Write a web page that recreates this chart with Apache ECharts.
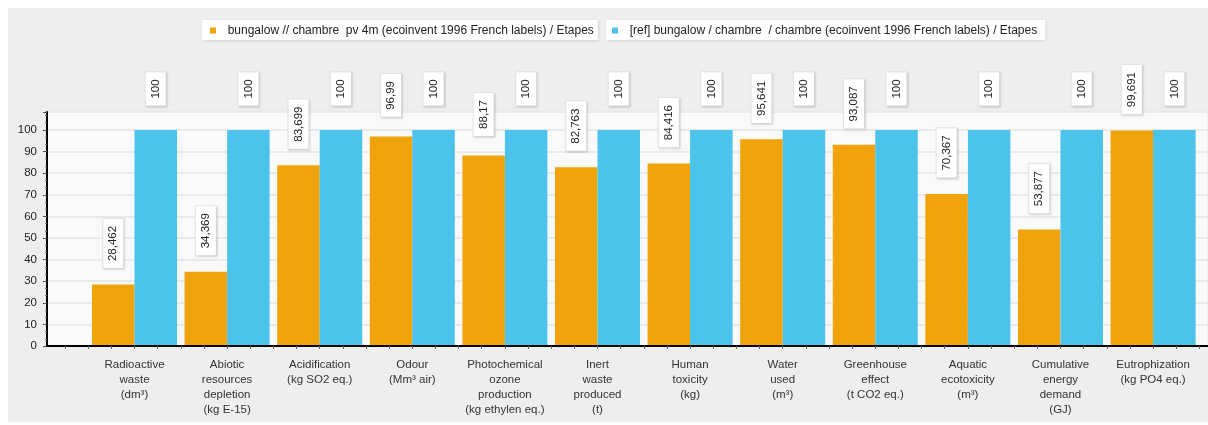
<!DOCTYPE html>
<html>
<head>
<meta charset="utf-8">
<script src="https://cdn.jsdelivr.net/npm/echarts@6/dist/echarts.min.js"></script>
<style>
  html, body { margin: 0; padding: 0; background: #ffffff; }
  #wrap { position: relative; width: 1208px; height: 425px; background: #ffffff; overflow: hidden; }
  #chart { position: absolute; left: 8px; top: 8px; width: 1200px; height: 414px; }
</style>
</head>
<body>
<div id="wrap"><div id="chart"></div></div>
<script>
// ---- data ----
const categories = [
  'Radioactive\nwaste\n(dm³)',
  'Abiotic\nresources\ndepletion\n(kg E-15)',
  'Acidification\n(kg SO2 eq.)',
  'Odour\n(Mm³ air)',
  'Photochemical\nozone\nproduction\n(kg ethylen eq.)',
  'Inert\nwaste\nproduced\n(t)',
  'Human\ntoxicity\n(kg)',
  'Water\nused\n(m³)',
  'Greenhouse\neffect\n(t CO2 eq.)',
  'Aquatic\necotoxicity\n(m³)',
  'Cumulative\nenergy\ndemand\n(GJ)',
  'Eutrophization\n(kg PO4 eq.)'
];
const seriesNames = [
  'bungalow // chambre  pv 4m (ecoinvent 1996 French labels) / Etapes',
  '[ref] bungalow / chambre  / chambre (ecoinvent 1996 French labels) / Etapes'
];
const valuesPv = [28.462, 34.369, 83.699, 96.99, 88.17, 82.763, 84.416, 95.641, 93.087, 70.367, 53.877, 99.691];
const valuesRef = [100, 100, 100, 100, 100, 100, 100, 100, 100, 100, 100, 100];
const yTickValues = [0, 10, 20, 30, 40, 50, 60, 70, 80, 90, 100];

// ---- chart ----
const FONT = '"Liberation Sans", Arial, sans-serif';
const catIndex = categories.map((c, i) => i);
const xTicks = [];
for (let k = -3; k <= 46; k++) xTicks.push(k / 4);

function fmt(v) { return String(v).replace('.', ','); }

const labelStyle = {
  show: true,
  position: 'top',
  distance: 41,
  rotate: 90,
  align: 'center',
  verticalAlign: 'middle',
  formatter: p => fmt(p.value[1]),
  fontFamily: FONT,
  fontSize: 11.5,
  color: '#222',
  lineHeight: 13,
  backgroundColor: '#ffffff',
  borderColor: '#e4e4e4',
  borderWidth: 1,
  padding: [4, 7, 3, 7],
  shadowColor: 'rgba(0,0,0,0.10)',
  shadowBlur: 2,
  shadowOffsetX: 1,
  shadowOffsetY: 1
};

const legendCommon = {
  top: 12,
  orient: 'horizontal',
  icon: 'rect',
  itemWidth: 6,
  itemHeight: 6,
  selectedMode: false,
  backgroundColor: '#ffffff',
  shadowColor: 'rgba(0,0,0,0.12)',
  shadowBlur: 3,
  shadowOffsetX: 1,
  shadowOffsetY: 1,
  formatter: n => '  ' + n,
  textStyle: { fontFamily: FONT, fontSize: 12, color: '#222', lineHeight: 13 }
};

const chart = echarts.init(document.getElementById('chart'), null, { renderer: 'canvas' });
chart.setOption({
  backgroundColor: '#eeeeee',
  animation: false,
  textStyle: { fontFamily: FONT },
  legend: [
    Object.assign({}, legendCommon, { left: 194, padding: [4, 4, 3, 8], data: [seriesNames[0]] }),
    Object.assign({}, legendCommon, { left: 598, padding: [4, 8, 3, 6], data: [seriesNames[1]] })
  ],
  grid: {
    left: 39, right: 0, top: 104, bottom: 76,
    show: true,
    backgroundColor: '#f9f9f9',
    borderColor: '#e2e2e2',
    borderWidth: 1
  },
  xAxis: {
    type: 'value',
    min: -0.945,
    max: 11.593,
    z: 5,
    axisLine: { show: true, onZero: false, lineStyle: { color: '#000', width: 2 } },
    axisTick: { show: true, customValues: xTicks, length: 3, lineStyle: { color: '#666' } },
    splitLine: { show: false },
    axisLabel: {
      customValues: catIndex,
      formatter: v => categories[Math.round(v)] || '',
      fontFamily: FONT,
      fontSize: 11.5,
      color: '#333',
      lineHeight: 15,
      margin: 11,
      align: 'center'
    }
  },
  yAxis: {
    type: 'value',
    min: 0,
    max: 108.3,
    interval: 10,
    axisLine: { show: true, onZero: false, lineStyle: { color: '#000', width: 2 } },
    axisTick: { show: true, length: 4, lineStyle: { color: '#555' } },
    minorTick: { show: true, splitNumber: 3, length: 2, lineStyle: { color: '#777' } },
    splitLine: { show: true, lineStyle: { color: '#e9e9e9', width: 2 } },
    axisLabel: {
      fontFamily: FONT,
      fontSize: 11.5,
      color: '#222',
      margin: 10,
      formatter: v => (yTickValues.indexOf(v) >= 0 ? String(v) : '')
    }
  },
  series: [
    {
      name: seriesNames[0],
      type: 'bar',
      barWidth: 42.5,
      barGap: '0%',
      itemStyle: { color: '#f0a30a' },
      label: labelStyle,
      data: valuesPv.map((v, i) => [i, v])
    },
    {
      name: seriesNames[1],
      type: 'bar',
      barWidth: 42.5,
      barGap: '0%',
      itemStyle: { color: '#4bc3eb' },
      label: labelStyle,
      data: valuesRef.map((v, i) => [i, v])
    }
  ]
});
</script>
</body>
</html>
